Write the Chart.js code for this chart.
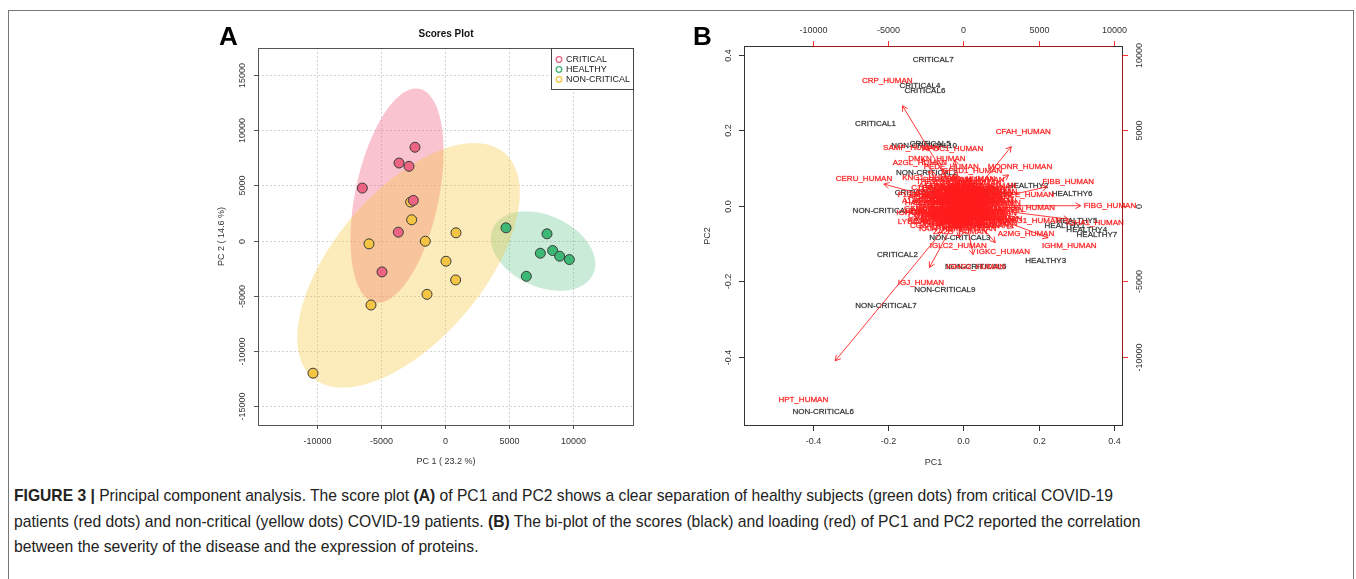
<!DOCTYPE html>
<html>
<head>
<meta charset="utf-8">
<script src="https://cdn.jsdelivr.net/npm/chart.js@4.4.0/dist/chart.umd.min.js"></script>
<style>
  body { margin:0; width:1356px; height:579px; background:#fff; position:relative; overflow:hidden; font-family:"Liberation Sans", Arial, sans-serif; }
  #border { position:absolute; left:8px; top:10px; width:1344px; height:572px; border:1px solid #777; }
  .panel { position:absolute; }
  .tag { position:absolute; font:bold 26px "Liberation Sans", Arial, sans-serif; line-height:26px; color:#000; }
  .cap { position:absolute; left:14px; font-size:17px; line-height:20px; white-space:nowrap; color:#222;
         transform-origin:0 50%; font-family:"Liberation Sans Narrow","Liberation Sans",Arial,sans-serif; }
</style>
</head>
<body>
<div id="border"></div>
<canvas id="chartA" class="panel" width="450" height="460" style="left:200px;top:20px"></canvas>
<canvas id="chartB" class="panel" width="470" height="460" style="left:690px;top:20px"></canvas>
<div class="tag" style="left:219px;top:23px">A</div>
<div class="tag" style="left:693px;top:23px">B</div>
<div class="cap" id="cap1" style="top:486px"><b>FIGURE 3 |</b> Principal component analysis. The score plot <b>(A)</b> of PC1 and PC2 shows a clear separation of healthy subjects (green dots) from critical COVID-19</div>
<div class="cap" id="cap2" style="top:512px">patients (red dots) and non-critical (yellow dots) COVID-19 patients. <b>(B)</b> The bi-plot of the scores (black) and loading (red) of PC1 and PC2 reported the correlation</div>
<div class="cap" id="cap3" style="top:537px">between the severity of the disease and the expression of proteins.</div>

<script>
// ---- A : scores plot (PC1 / PC2) ----
const groupLabels = ["CRITICAL", "HEALTHY", "NON-CRITICAL"];
const criticalPC1 = [-2344, -3590, -2812, -6460, -2473, -3646, -4922];
const criticalPC2 = [8455, 7027, 6727, 4755, 3636, 755, -2845];
const healthyPC1 = [4766, 7969, 7448, 8411, 8958, 9713, 6354];
const healthyPC2 = [1152, 606, -1152, -909, -1424, -1727, -3242];
const nonCriticalPC1 = [-2682, -2604, -5937, -1536, 859, 78, 833, -1406, -5781, -10312];
const nonCriticalPC2 = [3485, 1882, -303, -61, 697, -1879, -3575, -4879, -5848, -12030];
const scoreTicksX = [-10000, -5000, 0, 5000, 10000];
const scoreTicksY = [-15000, -10000, -5000, 0, 5000, 10000, 15000];

// ---- B : biplot ----
const sampleNames = ["CRITICAL7", "CRITICAL4", "CRITICAL6", "CRITICAL1", "CRITICAL5", "NON-CRITICAL10",
  "NON-CRITICAL2", "CRITICAL3", "NON-CRITICAL1", "NON-CRITICAL4", "NON-CRITICAL8", "HEALTHY2", "HEALTHY6",
  "HEALTHY1", "HEALTHY5", "HEALTHY4", "HEALTHY7", "HEALTHY3", "CRITICAL2", "NON-CRITICAL3", "NON-CRITICAL5",
  "NON-CRITICAL9", "NON-CRITICAL7", "NON-CRITICAL6"];
const samplePC1 = [-0.080, -0.115, -0.102, -0.233, -0.088, -0.104, -0.097, -0.128, -0.2125, 0.031, 0.000, 0.172,
  0.289, 0.270, 0.302, 0.328, 0.355, 0.219, -0.175, -0.009, 0.033, -0.049, -0.2055, -0.372];
const samplePC2 = [0.386, 0.318, 0.305, 0.217, 0.165, 0.160, 0.086, 0.033, -0.013, 0.033, 0.010, 0.053, 0.031,
  -0.053, -0.041, -0.063, -0.076, -0.147, -0.129, -0.084, -0.162, -0.222, -0.266, -0.546];

const proteinNames = ["CRP_HUMAN", "HPT_HUMAN", "CFAH_HUMAN", "FIBG_HUMAN", "FIBB_HUMAN", "MOONR_HUMAN",
  "CERU_HUMAN", "SAMP_HUMAN", "APOC1_HUMAN", "A2GL_HUMAN", "DMKN_HUMAN", "PEDF_HUMAN", "GPLD1_HUMAN",
  "KNG1_HUMAN", "TRFE_HUMAN", "HBB_HUMAN", "IGHG1_HUMAN", "IGHA1_HUMAN", "A2MG_HUMAN", "IGHM_HUMAN",
  "IGKC_HUMAN", "IGLC2_HUMAN", "IGHG2_HUMAN", "IGJ_HUMAN", "LYSC_HUMAN", "A2AP_HUMAN",
  "ALBU_HUMAN", "APOA1_HUMAN", "APOA2_HUMAN", "APOA4_HUMAN", "APOB_HUMAN", "APOC3_HUMAN", "APOE_HUMAN",
  "APOH_HUMAN", "APOM_HUMAN", "A1AT_HUMAN", "A1AG1_HUMAN", "A1AG2_HUMAN", "A1BG_HUMAN", "AACT_HUMAN",
  "AMBP_HUMAN", "ANGT_HUMAN", "ANT3_HUMAN", "C1QA_HUMAN", "C1QB_HUMAN", "C1QC_HUMAN", "C1R_HUMAN",
  "C1S_HUMAN", "C4BPA_HUMAN", "CO2_HUMAN", "CO3_HUMAN", "CO4A_HUMAN", "CO5_HUMAN", "CO6_HUMAN",
  "CO7_HUMAN", "CO8A_HUMAN", "CO8B_HUMAN", "CO9_HUMAN", "CFAB_HUMAN", "CFAI_HUMAN", "CLUS_HUMAN",
  "FETUA_HUMAN", "FETUB_HUMAN", "FIBA_HUMAN", "GELS_HUMAN", "HEMO_HUMAN", "HEP2_HUMAN", "HRG_HUMAN",
  "IC1_HUMAN", "ITIH1_HUMAN", "ITIH2_HUMAN", "ITIH3_HUMAN", "ITIH4_HUMAN", "KAIN_HUMAN", "LUM_HUMAN",
  "PLMN_HUMAN", "PON1_HUMAN", "RET4_HUMAN", "SAA1_HUMAN", "SAA4_HUMAN", "THRB_HUMAN", "TTHY_HUMAN",
  "VTDB_HUMAN", "VTNC_HUMAN", "ZA2G_HUMAN", "IGHA2_HUMAN", "IGHG4_HUMAN", "PGRP2_HUMAN", "PROS_HUMAN",
  "CPN1_HUMAN", "F13B_HUMAN", "AFAM_HUMAN", "PZP_HUMAN", "CD5L_HUMAN", "FCN3_HUMAN",
  "APOD_HUMAN", "APOF_HUMAN", "APOL1_HUMAN", "APOC2_HUMAN", "APOC4_HUMAN", "CBG_HUMAN", "CHLE_HUMAN",
  "MASP1_HUMAN", "MASP2_HUMAN", "SEPP1_HUMAN", "THBG_HUMAN", "TETN_HUMAN", "VWF_HUMAN", "ECM1_HUMAN",
  "QSOX1_HUMAN", "HABP2_HUMAN", "HPTR_HUMAN", "LCAT_HUMAN", "PLTP_HUMAN", "PHLD_HUMAN", "ATRN_HUMAN",
  "CPN2_HUMAN", "FA5_HUMAN", "FA9_HUMAN", "FA10_HUMAN", "FA11_HUMAN", "FA12_HUMAN", "PRG4_HUMAN",
  "SHBG_HUMAN", "TSP1_HUMAN", "ALS_HUMAN", "CD14_HUMAN", "LBP_HUMAN", "CXCL7_HUMAN", "PF4_HUMAN",
  "MBL2_HUMAN", "FCGBP_HUMAN", "CNDP1_HUMAN", "BTD_HUMAN", "PI16_HUMAN", "COMP_HUMAN", "HGFA_HUMAN",
  "KLKB1_HUMAN", "C8G_HUMAN", "IGHG3_HUMAN", "LV302_HUMAN", "KV320_HUMAN", "HV307_HUMAN", "IGLL5_HUMAN",
  "ZPI_HUMAN"];
const loadingPC1 = [-5046, -10624, 3984, 9741, 6972, 3765, -6594, -3450, -700, -2880, -1752, -800, 600,
  -2211, 4210, 4430, 4542, 8745, 4163, 7038, 2656, -332, 823, -2809, -2550, -1220,
  -300, -1200, 800, -1500, 400, -700, 1200, -1800, 200, -2300, -1000, -600, 1500, -1400,
  600, -200, 1000, -900, 1700, -1600, 300, -500, 900, -2000, 1300, -1100, 500, -300,
  1900, -1700, 0, -800, 1100, -1300, 700, -400, 1600, 2100, -2100, -700, 400, -1500,
  100, -1000, 1400, -300, 800, -1200, 300, -100, 1000, -1900, -600, 1800, -1300, 600,
  -900, 1200, -200, 2000, -2500, 1500, -800, 300, -2600, 900, -1700, 2200, -400,
  -500, 600, -1100, 200, -200, 900, -1600, -800, 1300, -400, 500, -1300, 1000, -700,
  1400, -1900, 300, -1000, 800, -200, -1400, 1100, -600, 400, -1200, 700, -300, 1500,
  -900, 100, -1700, 900, -500, 1200, -1100, 200, -800, 600, -1500, 1000, -300, -2000,
  300, -600, 700, -1000, 100, -1300, 1300, -400];
const loadingPC2 = [8280, -12855, 4894, 0, 1574, 2550, 1793, 3851, 3800, 2855, 3081, 2600, 2300,
  1819, 710, -170, -996, -1129, -1833, -2656, -3054, -2656, -4050, -5113, -1050, -470,
  200, 900, -400, -300, 1100, -900, 500, 600, -1200, 300, 1300, 600, -900, -1100,
  800, -500, 1200, -200, 300, 1200, 400, -1400, -1100, -700, -200, 400, -800, 1500,
  -500, -1300, 900, 1000, 100, 100, 1500, -100, 900, 200, -200, 200, -1500, 400,
  -300, -700, 700, -1000, 300, -1500, 1300, 600, -600, -1000, -600, -1200, 1600, -200,
  -1200, -1300, -1700, -900, -500, 1300, 1700, 1800, 700, 1700, 200, -300, 1200,
  300, -500, -300, 700, -800, 600, -500, -400, 900, 800, 100, 800, -300, 1300,
  -1000, 200, -900, 900, 1000, 200, -800, -900, -200, 500, -1100, -1300, -600, 200,
  600, 1100, 700, -200, -1200, 1100, 1200, -600, -900, 600, -100, 400, 400, -400,
  -100, 1000, -800, 0, -1300, -600, -600, -300];
const biplotTicks = [-0.4, -0.2, 0, 0.2, 0.4];
const loadingTicks = [-10000, -5000, 0, 5000, 10000];

const groupColors = ["#ec6482", "#3db874", "#f4c542"];
const ellipseColors = ["rgba(238,96,130,0.38)", "rgba(60,184,116,0.28)", "rgba(246,199,67,0.36)"];
const FONT = '"Liberation Sans", Arial, sans-serif';

// 95% confidence ellipse of a group (same as R's ellipse() on the covariance)
function confEllipse(xs, ys) {
  const n = xs.length;
  const mx = xs.reduce((a, b) => a + b, 0) / n;
  const my = ys.reduce((a, b) => a + b, 0) / n;
  let sxx = 0, syy = 0, sxy = 0;
  for (let i = 0; i < n; i++) {
    sxx += (xs[i] - mx) ** 2; syy += (ys[i] - my) ** 2; sxy += (xs[i] - mx) * (ys[i] - my);
  }
  sxx /= n - 1; syy /= n - 1; sxy /= n - 1;
  const tr = sxx + syy, det = sxx * syy - sxy * sxy;
  const d = Math.sqrt(Math.max(tr * tr / 4 - det, 0));
  const l1 = tr / 2 + d, l2 = tr / 2 - d;
  const ang = Math.atan2(l1 - sxx, sxy);
  const k = Math.sqrt(5.991);
  return { mx, my, a: k * Math.sqrt(l1), b: k * Math.sqrt(Math.max(l2, 0)), ang };
}

function rotText(ctx, txt, x, y, rot) {
  ctx.save(); ctx.translate(x, y); ctx.rotate(rot); ctx.fillText(txt, 0, 0); ctx.restore();
}

function hline(ctx, x0, y0, x1, y1) {
  ctx.beginPath(); ctx.moveTo(x0, y0); ctx.lineTo(x1, y1); ctx.stroke();
}

// text with a faint outline, the original is a blurry scan so glyphs look heavier
function heavyText(ctx, txt, x, y) {
  ctx.strokeText(txt, x, y);
  ctx.fillText(txt, x, y);
}

const groupsA = [[criticalPC1, criticalPC2], [healthyPC1, healthyPC2], [nonCriticalPC1, nonCriticalPC2]];

const scoresDecor = {
  id: 'scoresDecor',
  beforeDatasetsDraw(chart) {
    const { ctx, chartArea: a, scales: { x, y } } = chart;
    ctx.save();
    // dotted grid
    ctx.strokeStyle = '#d4d4d4'; ctx.lineWidth = 1; ctx.setLineDash([2, 2]);
    scoreTicksX.forEach(v => { const p = Math.round(x.getPixelForValue(v)) + 0.5; hline(ctx, p, a.top, p, a.bottom); });
    scoreTicksY.forEach(v => { const p = Math.round(y.getPixelForValue(v)) + 0.5; hline(ctx, a.left, p, a.right, p); });
    ctx.setLineDash([]);
    // ellipses
    ctx.beginPath(); ctx.rect(a.left, a.top, a.right - a.left, a.bottom - a.top); ctx.clip();
    groupsA.forEach((g, gi) => {
      const e = confEllipse(g[0], g[1]);
      ctx.beginPath();
      for (let i = 0; i <= 120; i++) {
        const t = i / 120 * Math.PI * 2;
        const ex = e.mx + e.a * Math.cos(t) * Math.cos(e.ang) - e.b * Math.sin(t) * Math.sin(e.ang);
        const ey = e.my + e.a * Math.cos(t) * Math.sin(e.ang) + e.b * Math.sin(t) * Math.cos(e.ang);
        const px = x.getPixelForValue(ex), py = y.getPixelForValue(ey);
        if (i === 0) ctx.moveTo(px, py); else ctx.lineTo(px, py);
      }
      ctx.closePath();
      ctx.fillStyle = ellipseColors[gi];
      ctx.fill();
    });
    ctx.restore();
  },
  afterDraw(chart) {
    const { ctx, chartArea: a, scales: { x, y } } = chart;
    ctx.save();
    ctx.strokeStyle = '#555'; ctx.lineWidth = 1;
    ctx.strokeRect(a.left + 0.5, a.top + 0.5, a.right - a.left - 1, a.bottom - a.top);
    ctx.fillStyle = '#333'; ctx.font = '9px ' + FONT;
    ctx.textAlign = 'center'; ctx.textBaseline = 'middle';
    scoreTicksX.forEach(v => {
      const p = Math.round(x.getPixelForValue(v)) + 0.5;
      hline(ctx, p, a.bottom, p, a.bottom + 4);
      ctx.fillText(String(v), p, a.bottom + 17);
    });
    scoreTicksY.forEach(v => {
      const p = Math.round(y.getPixelForValue(v)) + 0.5;
      hline(ctx, a.left - 4, p, a.left, p);
      rotText(ctx, String(v), a.left - 15, p, -Math.PI / 2);
    });
    ctx.fillText('PC 1 ( 23.2 %)', (a.left + a.right) / 2, a.bottom + 37);
    rotText(ctx, 'PC 2 ( 14.6 %)', 22, (a.top + a.bottom) / 2, -Math.PI / 2);
    ctx.font = 'bold 10px ' + FONT; ctx.fillStyle = '#111';
    ctx.fillText('Scores Plot', (a.left + a.right) / 2, 14);
    // legend
    const lx = a.right - 83, ly = a.top;
    ctx.fillStyle = '#fff'; ctx.fillRect(lx, ly, 83, 42);
    ctx.strokeStyle = '#444'; ctx.strokeRect(lx + 0.5, ly + 0.5, 82, 41);
    ctx.font = '9px ' + FONT; ctx.textAlign = 'left';
    groupLabels.forEach((lab, i) => {
      const cy = ly + 11.5 + i * 10;
      ctx.strokeStyle = groupColors[i]; ctx.lineWidth = 1.3;
      ctx.beginPath(); ctx.arc(lx + 8, cy, 2.8, 0, Math.PI * 2); ctx.stroke();
      ctx.fillStyle = '#222';
      ctx.fillText(lab, lx + 15, cy + 0.5);
    });
    ctx.restore();
  }
};

function pairs(xs, ys) { return xs.map((v, i) => ({ x: v, y: ys[i] })); }

new Chart(document.getElementById('chartA'), {
  type: 'scatter',
  data: {
    datasets: groupsA.map((g, i) => ({
      label: groupLabels[i],
      data: pairs(g[0], g[1]),
      backgroundColor: groupColors[i],
      borderColor: '#3a3a3a',
      borderWidth: 1,
      pointRadius: 5
    }))
  },
  options: {
    responsive: false, animation: false, devicePixelRatio: 1,
    layout: { padding: { top: 28, right: 16, left: 0, bottom: 0 } },
    plugins: { legend: { display: false }, tooltip: { enabled: false } },
    scales: {
      x: { type: 'linear', min: -14609, max: 14766, ticks: { display: false }, grid: { display: false },
           border: { display: false }, afterFit(s) { s.height = 55; } },
      y: { type: 'linear', min: -16727, max: 17455, ticks: { display: false }, grid: { display: false },
           border: { display: false }, afterFit(s) { s.width = 58; } }
    }
  },
  plugins: [scoresDecor]
});

function drawArrow(ctx, x0, y0, x1, y1) {
  const ang = Math.atan2(y1 - y0, x1 - x0), h = 6, w = Math.PI / 6;
  ctx.beginPath();
  ctx.moveTo(x0, y0); ctx.lineTo(x1, y1);
  ctx.moveTo(x1 - h * Math.cos(ang - w), y1 - h * Math.sin(ang - w));
  ctx.lineTo(x1, y1);
  ctx.lineTo(x1 - h * Math.cos(ang + w), y1 - h * Math.sin(ang + w));
  ctx.stroke();
}

const biplotDecor = {
  id: 'biplotDecor',
  afterDraw(chart) {
    const { ctx, chartArea: a, scales: { x, y, x2, y2 } } = chart;
    ctx.save();
    ctx.textAlign = 'center'; ctx.textBaseline = 'middle';
    // scores (black)
    ctx.font = '8px ' + FONT; ctx.fillStyle = '#2b2b2b';
    ctx.strokeStyle = 'rgba(43,43,43,0.5)'; ctx.lineWidth = 0.4;
    chart.getDatasetMeta(0).data.forEach((pt, i) => heavyText(ctx, sampleNames[i], pt.x, pt.y));
    // loadings (red arrows + names)
    const ox = x2.getPixelForValue(0), oy = y2.getPixelForValue(0);
    ctx.strokeStyle = 'rgba(255,20,20,0.85)'; ctx.lineWidth = 1;
    loadingPC1.forEach((v, i) => {
      drawArrow(ctx, ox, oy, x2.getPixelForValue(0.8 * v), y2.getPixelForValue(0.8 * loadingPC2[i]));
    });
    ctx.fillStyle = '#ff1e1e'; ctx.strokeStyle = 'rgba(255,30,30,0.5)'; ctx.lineWidth = 0.5;
    chart.getDatasetMeta(1).data.forEach((pt, i) => heavyText(ctx, proteinNames[i], pt.x, pt.y));
    // box
    ctx.lineWidth = 1; ctx.strokeStyle = '#333';
    ctx.strokeRect(a.left + 0.5, a.top + 0.5, a.right - a.left - 1, a.bottom - a.top - 1);
    // bottom + left axes
    ctx.fillStyle = '#333'; ctx.font = '9px ' + FONT;
    biplotTicks.forEach(v => {
      const px = Math.round(x.getPixelForValue(v)) + 0.5;
      hline(ctx, px, a.bottom, px, a.bottom + 5);
      ctx.fillText(v.toFixed(1), px, a.bottom + 16);
      const py = Math.round(y.getPixelForValue(v)) + 0.5;
      hline(ctx, a.left - 5, py, a.left, py);
      rotText(ctx, v.toFixed(1), a.left - 15, py, -Math.PI / 2);
    });
    ctx.fillText('PC1', (a.left + a.right) / 2, a.bottom + 37);
    rotText(ctx, 'PC2', 18, (a.top + a.bottom) / 2, -Math.PI / 2);
    // top + right axes (loadings scale, red)
    const tx0 = x2.getPixelForValue(loadingTicks[0]), tx1 = x2.getPixelForValue(loadingTicks[loadingTicks.length - 1]);
    const ty0 = y2.getPixelForValue(loadingTicks[0]), ty1 = y2.getPixelForValue(loadingTicks[loadingTicks.length - 1]);
    ctx.strokeStyle = 'rgba(255,0,0,0.55)';
    hline(ctx, tx0, a.top + 0.5, tx1, a.top + 0.5);
    hline(ctx, a.right - 0.5, ty0, a.right - 0.5, ty1);
    ctx.strokeStyle = '#ff3030';
    loadingTicks.forEach(v => {
      const px = Math.round(x2.getPixelForValue(v)) + 0.5;
      hline(ctx, px, a.top - 5, px, a.top);
      ctx.fillText(String(v), px, a.top - 15);
      const py = Math.round(y2.getPixelForValue(v)) + 0.5;
      hline(ctx, a.right, py, a.right + 5, py);
      rotText(ctx, String(v), a.right + 17, py, -Math.PI / 2);
    });
    ctx.restore();
  }
};

new Chart(document.getElementById('chartB'), {
  type: 'scatter',
  data: {
    datasets: [
      { label: 'scores', data: pairs(samplePC1, samplePC2), xAxisID: 'x', yAxisID: 'y', pointRadius: 0 },
      { label: 'loadings', data: pairs(loadingPC1, loadingPC2), xAxisID: 'x2', yAxisID: 'y2', pointRadius: 0 }
    ]
  },
  options: {
    responsive: false, animation: false, devicePixelRatio: 1,
    layout: { padding: 0 },
    plugins: { legend: { display: false }, tooltip: { enabled: false } },
    scales: {
      x: { type: 'linear', axis: 'x', position: 'bottom', min: -0.5825, max: 0.4243, ticks: { display: false },
           grid: { display: false }, border: { display: false }, afterFit(s) { s.height = 54; } },
      x2: { type: 'linear', axis: 'x', position: 'top', min: -14562, max: 10608, ticks: { display: false },
            grid: { display: false }, border: { display: false }, afterFit(s) { s.height = 26; } },
      y: { type: 'linear', axis: 'y', position: 'left', min: -0.5843, max: 0.4236, ticks: { display: false },
           grid: { display: false }, border: { display: false }, afterFit(s) { s.width = 54; } },
      y2: { type: 'linear', axis: 'y', position: 'right', min: -14608, max: 10590, ticks: { display: false },
            grid: { display: false }, border: { display: false }, afterFit(s) { s.width = 37; } }
    }
  },
  plugins: [biplotDecor]
});

// stretch caption lines to the widths of the original layout
function fitLine(id, right, scale) {
  const el = document.getElementById(id);
  const s = scale || (right - 14) / el.scrollWidth;
  el.style.transform = 'scaleX(' + s + ')';
  return s;
}
fitLine('cap1', 1113);
const s2 = fitLine('cap2', 1140);
fitLine('cap3', 0, s2);
</script>
</body>
</html>
